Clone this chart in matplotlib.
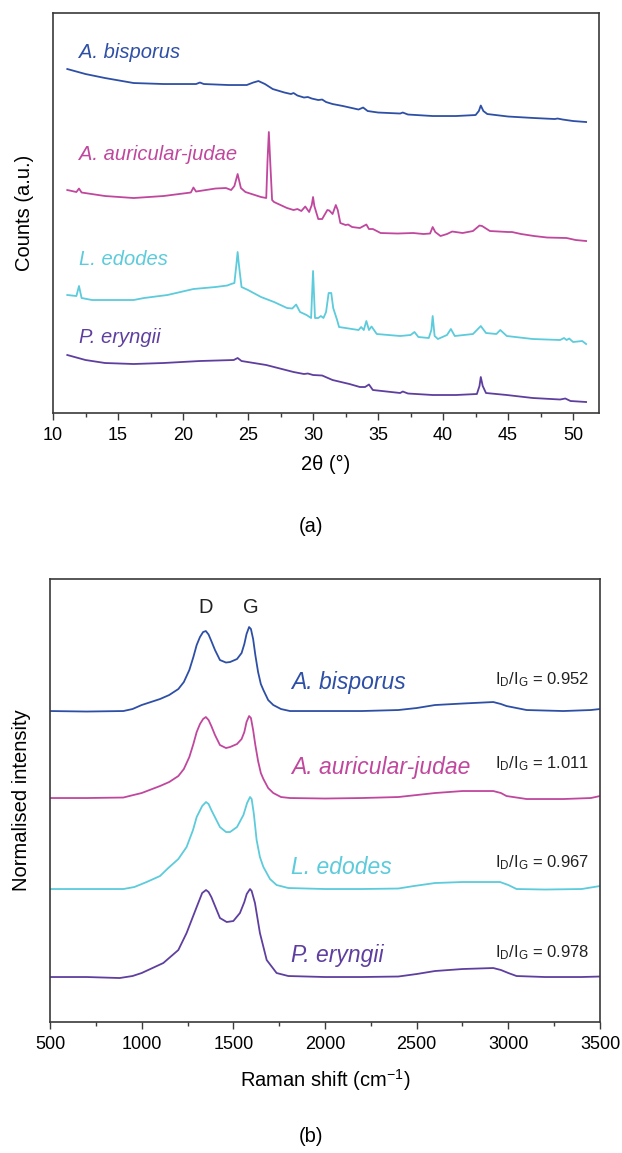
import matplotlib
matplotlib.use("Agg")
import matplotlib.pyplot as plt
from matplotlib.ticker import MultipleLocator

plt.rcParams['font.family'] = ['Liberation Sans', 'DejaVu Sans']
plt.rcParams['mathtext.fontset'] = 'custom'
plt.rcParams['mathtext.rm'] = 'Liberation Sans'
plt.rcParams['mathtext.it'] = 'Liberation Sans:italic'

# === data (a): XRD, 2theta vs counts (offset, a.u.) ===
names = ["A. bisporus", "A. auricular-judae", "L. edodes", "P. eryngii"]
colors = ["#2e4fa6", "#c0479d", "#5ccbdb", "#5e3f9f"]

xrd_bis_x = [11.1, 12.5, 14.0, 16.2, 18.5, 21.0, 21.3, 21.6, 23.5, 24.9, 25.4, 25.8, 26.3, 26.9,
             27.8, 28.3, 28.5, 28.8, 29.3, 29.6, 29.9, 30.4, 30.7, 31.0, 31.5, 32.3, 33.5, 33.85,
             34.2, 35.0, 36.7, 36.9, 37.3, 39.2, 41.0, 42.5, 42.75, 42.9, 43.1, 43.4, 45.0, 47.0,
             48.6, 48.8, 49.2, 50.0, 51.0]
xrd_bis_y = [344, 339, 335, 330, 329, 329, 330.5, 329, 328, 328, 330.5, 332, 329, 324,
             320.5, 319, 320, 317.5, 315.5, 316, 314.5, 313, 313.5, 311, 309, 307, 303.5, 305.5,
             302, 300.5, 299.5, 300.5, 298.5, 297, 297, 298, 302, 307.5, 302, 299, 296.5, 295,
             294, 294.5, 293.5, 292, 291]

xrd_aur_x = [11.1, 11.8, 12.0, 12.2, 14.0, 16.2, 18.5, 20.6, 20.8, 21.0, 22.5, 23.3, 23.7, 23.95,
             24.2, 24.45, 24.8, 26.0, 26.4, 26.5, 26.6, 26.7, 26.85, 27.0, 28.0, 28.5, 28.8, 29.1,
             29.4, 29.7, 29.9, 30.0, 30.1, 30.4, 30.7, 31.1, 31.25, 31.5, 31.75, 31.9, 32.1, 32.5,
             32.7, 33.0, 33.6, 34.1, 34.3, 34.6, 35.2, 36.5, 37.7, 38.5, 39.0, 39.2, 39.4, 39.8,
             40.3, 40.7, 41.5, 42.3, 42.8, 43.0, 43.6, 45.0, 45.3, 46.0, 47.0, 48.0, 49.5, 50.2, 51.0]
xrd_aur_y = [223, 221, 224.5, 220.5, 217, 215, 217, 220.5, 225.5, 221.5, 224.5, 225, 223, 227,
             239, 225, 221, 216, 215, 253, 281, 253, 213, 211, 205, 203, 204, 202,
             206.5, 201, 208, 216, 207, 194, 194, 203, 202.5, 199, 208, 203, 190, 188,
             188.5, 186, 185, 188.5, 184, 184, 180, 179.5, 180, 179, 179.5, 186, 181, 177,
             179, 181.5, 180, 182, 187.5, 187, 182, 181, 181, 179, 177, 175.5, 175, 173, 172]

xrd_led_x = [11.1, 11.8, 12.0, 12.2, 13.0, 16.2, 17.0, 18.8, 20.8, 22.5, 23.4, 23.7, 23.95, 24.1,
             24.2, 24.3, 24.5, 25.0, 26.0, 27.0, 28.0, 28.4, 28.7, 29.0, 29.5, 29.85, 30.0, 30.15,
             30.4, 30.6, 30.8, 31.0, 31.2, 31.4, 31.55, 31.7, 31.85, 32.0, 33.0, 33.5, 33.7, 33.9,
             34.1, 34.3, 34.5, 34.9, 36.7, 37.5, 37.8, 38.1, 38.9, 39.1, 39.2, 39.35, 39.6, 40.3,
             40.6, 40.9, 42.3, 42.9, 43.3, 44.1, 44.4, 44.9, 46.9, 49.0, 49.3, 49.5, 49.7, 50.0,
             50.7, 51.0]
xrd_led_y = [118, 117, 127, 115, 113, 113, 115, 118, 124, 126, 127.5, 129, 130, 148,
             161, 148, 126, 123, 116, 111, 105, 104.5, 108.5, 101, 98, 95, 142, 95,
             95, 97, 95, 101, 120, 120, 105, 99, 93, 86, 84, 83, 86, 83,
             92, 83, 86.5, 79, 77, 78, 81, 76, 75, 83, 97, 77, 74, 78,
             84, 77, 79, 87, 80, 79, 83, 77, 74, 73, 75, 73, 74.5, 71,
             72, 69]

xrd_ery_x = [11.1, 12.5, 14.0, 16.2, 18.5, 21.3, 23.9, 24.2, 24.5, 26.4, 28.5, 29.3, 29.6, 30.0,
             30.7, 31.5, 32.8, 33.6, 34.0, 34.3, 34.6, 36.7, 36.9, 37.3, 39.2, 41.0, 42.6, 42.8,
             42.9, 43.05, 43.3, 44.9, 46.9, 49.0, 49.4, 49.8, 51.0]
xrd_ery_y = [58, 53, 50, 49, 50, 52, 53, 55, 52, 48, 41, 39, 39.5, 38,
             37.5, 33, 29, 26, 26, 28.5, 23, 20, 21.5, 19.5, 18, 18, 19, 27,
             36, 27, 20, 18, 15, 13.5, 14.5, 12, 11]

# === data (b): Raman, shift vs normalised intensity (offset) ===
ram_bis_x = [500, 700, 900, 950, 1000, 1100, 1150, 1200, 1230, 1260, 1282, 1300, 1318, 1335, 1350,
             1365, 1380, 1400, 1427, 1460, 1482, 1520, 1545, 1560, 1572, 1586, 1596, 1608, 1620,
             1635, 1650, 1664, 1690, 1718, 1760, 1809, 2000, 2200, 2400, 2500, 2600, 2750, 2918,
             2960, 2990, 3100, 3300, 3450, 3500]
ram_bis_y = [311, 310.5, 311, 313, 317, 323, 327, 333, 340, 352, 365, 377, 385, 390, 391,
             387.5, 381, 372, 362, 359.5, 360, 363, 369, 378, 388, 395, 393, 383, 367,
             350, 338, 332, 322, 317, 313, 311, 311, 311, 312, 314, 317, 318.5, 320,
             318, 316, 312, 311, 312, 313]

ram_aur_x = [500, 700, 900, 955, 1000, 1100, 1150, 1200, 1230, 1260, 1282, 1300, 1318, 1335, 1350,
             1365, 1380, 1400, 1427, 1460, 1482, 1520, 1545, 1560, 1572, 1586, 1596, 1608, 1620,
             1635, 1650, 1664, 1690, 1718, 1760, 1809, 2000, 2200, 2400, 2500, 2600, 2750, 2918,
             2960, 2990, 3100, 3300, 3450, 3500]
ram_aur_y = [224, 224, 224.5, 227, 229, 236, 240, 246, 253, 265, 278, 290, 298, 303, 305,
             302, 296, 287, 277, 274, 275, 278, 283, 290, 300, 306, 304, 292, 277,
             261, 249, 243, 234, 229, 225, 224, 223.5, 224, 225, 227, 229, 231, 231,
             229, 226, 223, 223, 224, 226]

ram_led_x = [500, 700, 900, 960, 1027, 1100, 1145, 1200, 1245, 1280, 1300, 1330, 1351, 1365, 1380,
             1427, 1460, 1482, 1520, 1555, 1575, 1591, 1600, 1612, 1627, 1645, 1664, 1700, 1736,
             1800, 2000, 2200, 2400, 2485, 2600, 2750, 2955, 3000, 3045, 3200, 3400, 3500]
ram_led_y = [133, 133, 133, 135, 140, 146, 154, 163, 175, 192, 205, 216, 220, 218, 212,
             195, 190, 190, 195, 207, 219, 225, 223, 208, 182, 165, 155, 143, 137,
             134, 133, 133, 133.5, 136, 139, 140, 140, 137, 133, 132.5, 133, 136]

ram_ery_x = [500, 700, 880, 950, 1000, 1118, 1200, 1245, 1300, 1330, 1351, 1365, 1380, 1427, 1464,
             1500, 1536, 1560, 1573, 1591, 1600, 1618, 1645, 1682, 1736, 1800, 2000, 2200, 2400,
             2500, 2600, 2750, 2918, 2960, 3000, 3045, 3200, 3400, 3500]
ram_ery_y = [45, 45, 44, 46, 49, 59, 72, 89, 115, 129, 132, 130, 125, 104, 100,
             101, 109, 120, 128, 133, 131, 119, 89, 62, 49, 46, 45, 45, 45.5,
             48, 51, 53, 54, 52, 49, 46, 45, 45, 45.5]

ratios = ["0.952", "1.011", "0.967", "0.978"]

xrd = [(xrd_bis_x, xrd_bis_y), (xrd_aur_x, xrd_aur_y), (xrd_led_x, xrd_led_y), (xrd_ery_x, xrd_ery_y)]
ram = [(ram_bis_x, ram_bis_y), (ram_aur_x, ram_aur_y), (ram_led_x, ram_led_y), (ram_ery_x, ram_ery_y)]

# label positions (data coords)
xrd_label_y = [361, 259, 154, 76]
ram_label_y = [340, 255, 155, 67]
ratio_label_y = [342, 258, 159, 69]

fig = plt.figure(figsize=(6.22, 11.53), dpi=100)
ax1 = fig.add_axes([0.0852, 0.6418, 0.878, 0.3469])
ax2 = fig.add_axes([0.0804, 0.1136, 0.8842, 0.3842])

# === panel (a) ===
for (x, y), c, n, ly in zip(xrd, colors, names, xrd_label_y):
    ax1.plot(x, y, color=c, lw=1.3)
    ax1.text(12.0, ly, n, color=c, fontsize=14.5, style='italic', va='center', ha='left')
ax1.set_xlim(10, 52)
ax1.set_ylim(0, 400)
ax1.xaxis.set_major_locator(MultipleLocator(5))
ax1.xaxis.set_minor_locator(MultipleLocator(2.5))
ax1.set_yticks([])
ax1.set_xlabel("2θ (°)", fontsize=14.5, labelpad=8)
ax1.set_ylabel("Counts (a.u.)", fontsize=14.5, labelpad=14)

# === panel (b) ===
for (x, y), c, n, ly, r, ry in zip(ram, colors, names, ram_label_y, ratios, ratio_label_y):
    ax2.plot(x, y, color=c, lw=1.3)
    ax2.text(1815, ly, n, color=c, fontsize=16.5, style='italic', va='center', ha='left')
    ax2.text(3440, ry, r'I$_\mathrm{D}$/I$_\mathrm{G}$ = ' + r, color='#222222',
             fontsize=12, va='center', ha='right')
ax2.text(1351, 415, "D", fontsize=14.5, ha='center', va='center', color='#222222')
ax2.text(1596, 415, "G", fontsize=14.5, ha='center', va='center', color='#222222')
ax2.set_xlim(500, 3500)
ax2.set_ylim(0, 443)
ax2.xaxis.set_major_locator(MultipleLocator(500))
ax2.xaxis.set_minor_locator(MultipleLocator(250))
ax2.set_yticks([])
ax2.set_xlabel(r"Raman shift (cm$^{-1}$)", fontsize=14.5, labelpad=10)
ax2.set_ylabel("Normalised intensity", fontsize=14.5, labelpad=14)

for ax in (ax1, ax2):
    for s in ax.spines.values():
        s.set_color('#3a3a3a')
        s.set_linewidth(1.2)
    ax.tick_params(axis='x', which='major', length=5, width=1, labelsize=13, color='#3a3a3a', pad=5)
    ax.tick_params(axis='x', which='minor', length=3, width=1, color='#3a3a3a')

fig.text(0.5, 1 - 527 / 1153, "(a)", fontsize=14.5, ha='center', va='center')
fig.text(0.5, 1 - 1137 / 1153, "(b)", fontsize=14.5, ha='center', va='center')

plt.savefig("out.png", dpi=100)
